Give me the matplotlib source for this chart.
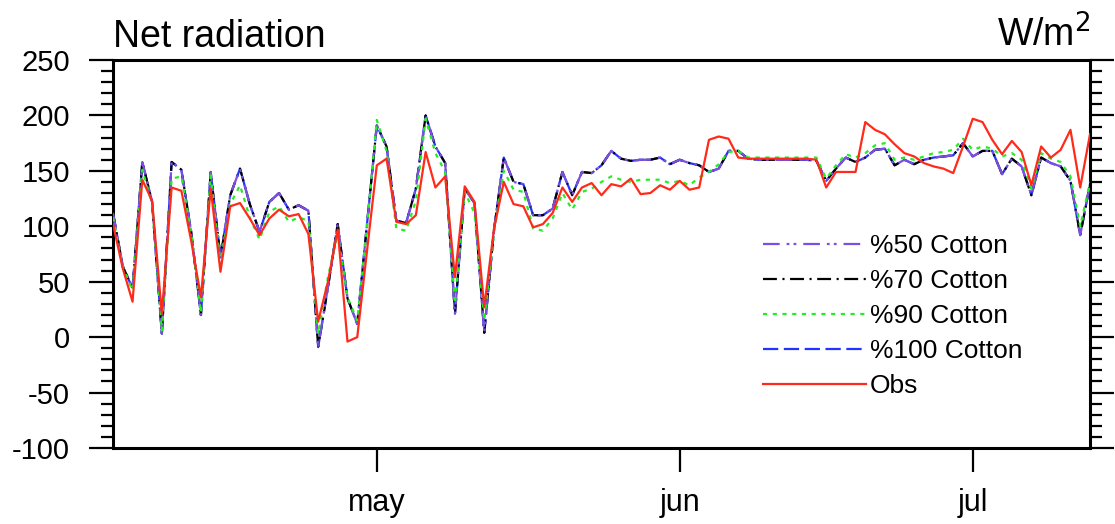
import numpy as np
import matplotlib
matplotlib.use("Agg")
import matplotlib.pyplot as plt

# daily values, 4 Apr .. 13 Jul
cotton50 = [112, 64, 44, 158, 122, 3, 158, 151, 95, 20,
            149, 72, 128, 152, 120, 95, 122, 130, 115, 119,
            114, -9, 45, 102, 35, 12, 102, 191, 172, 105,
            103, 134, 200, 172, 157, 21, 134, 121, 4, 97,
            162, 140, 138, 110, 110, 116, 149, 128, 149, 148,
            155, 168, 161, 159, 160, 160, 162, 156, 160, 157,
            155, 149, 152, 168, 168, 161, 160, 160, 160, 160,
            160, 160, 159, 141, 152, 162, 158, 162, 169, 170,
            155, 160, 156, 160, 162, 163, 164, 175, 163, 168,
            168, 147, 161, 154, 128, 162, 157, 154, 141, 92,
            138]
cotton70 = list(cotton50)
cotton100 = list(cotton50)
cotton90 = [108, 63, 42, 151, 120, 6, 143, 145, 95, 22,
            146, 66, 120, 137, 108, 88, 113, 118, 104, 108,
            105, 3, 54, 94, 36, 15, 100, 196, 168, 98,
            96, 123, 197, 166, 149, 30, 131, 112, 15, 94,
            150, 133, 131, 98, 96, 107, 130, 115, 131, 134,
            140, 145, 142, 140, 142, 142, 142, 139, 141, 137,
            144, 149, 156, 167, 168, 162, 162, 162, 162, 162,
            162, 162, 162, 143, 155, 165, 162, 166, 173, 175,
            160, 162, 160, 163, 166, 167, 169, 179, 169, 172,
            170, 163, 166, 160, 134, 166, 161, 158, 145, 100,
            140]
obs = [102, 62, 32, 142, 123, 21, 135, 132, 87, 36,
       134, 59, 118, 121, 107, 92, 107, 115, 109, 111,
       93, 14, 50, 97, -4, 0, 78, 155, 161, 104,
       102, 110, 167, 135, 145, 54, 136, 122, 27, 98,
       140, 120, 118, 99, 102, 112, 135, 122, 135, 139,
       128, 138, 136, 143, 129, 130, 137, 133, 141, 133,
       135, 178, 181, 179, 162, 161, 161, 161, 161, 161,
       161, 161, 160, 135, 149, 149, 149, 194, 187, 183,
       174, 166, 163, 157, 154, 152, 148, 172, 197, 194,
       178, 165, 177, 167, 137, 172, 162, 169, 187, 135,
       183]

month_days = [27, 58, 88]
month_labels = ["may", "jun", "jul"]
series_labels = ["%50 Cotton", "%70 Cotton", "%90 Cotton", "%100 Cotton", "Obs"]

plt.rcParams['font.family'] = ['Liberation Sans', 'DejaVu Sans']
plt.rcParams['lines.scale_dashes'] = False
plt.rcParams['axes.unicode_minus'] = False

days = np.arange(len(obs))

fig = plt.figure(figsize=(11.15, 5.24), dpi=100)
ax = fig.add_axes([113 / 1115, 1 - 448 / 524, 977 / 1115, 388 / 524])

lw = 1.6
ax.plot(days, cotton50, color="#7b4fe0", lw=lw, ls=(0, (12, 5, 2, 3, 2, 5)),
        label=series_labels[0], zorder=4)
ax.plot(days, cotton70, color="black", lw=lw, ls=(0, (10, 4, 1.5, 4)),
        label=series_labels[1], zorder=3)
ax.plot(days, cotton90, color="#22ee22", lw=lw, ls=(0, (3, 4)),
        label=series_labels[2], zorder=5)
ax.plot(days, cotton100, color="#2233ff", lw=lw, ls=(0, (11, 4)),
        label=series_labels[3], zorder=2)
ax.plot(days, obs, color="#ff2a1a", lw=lw, label=series_labels[4], zorder=6)

ax.set_xlim(0, len(obs) - 1)
ax.set_ylim(-100, 250)
ax.set_yticks(np.arange(-100, 251, 50))
ax.set_yticks(np.arange(-100, 251, 10), minor=True)
ax.set_xticks(month_days)
ax.set_xticklabels(month_labels)

for s in ax.spines.values():
    s.set_linewidth(2.2)

ax.tick_params(axis='y', which='major', direction='out', length=17, width=1.6,
               labelsize=21, pad=14, right=True)
ax.tick_params(axis='y', which='minor', direction='out', length=8.5, width=1.6, right=True)
ax.tick_params(axis='x', which='major', direction='out', length=17, width=1.6,
               labelsize=22, pad=12)

ax.text(0, 1 + 13 / 388, "Net radiation", transform=ax.transAxes,
        fontsize=27, ha='left', va='baseline')
ax.text(1, 1 + 13 / 388, "W/m$^2$", transform=ax.transAxes,
        fontsize=27, ha='right', va='baseline')

ax.legend(loc='upper left', bbox_to_anchor=(0.665, 0.552), frameon=False,
          fontsize=19, handlelength=3.9, handletextpad=0.15, labelspacing=0.42,
          borderpad=0, borderaxespad=0)

fig.savefig("out.png", dpi=100)
